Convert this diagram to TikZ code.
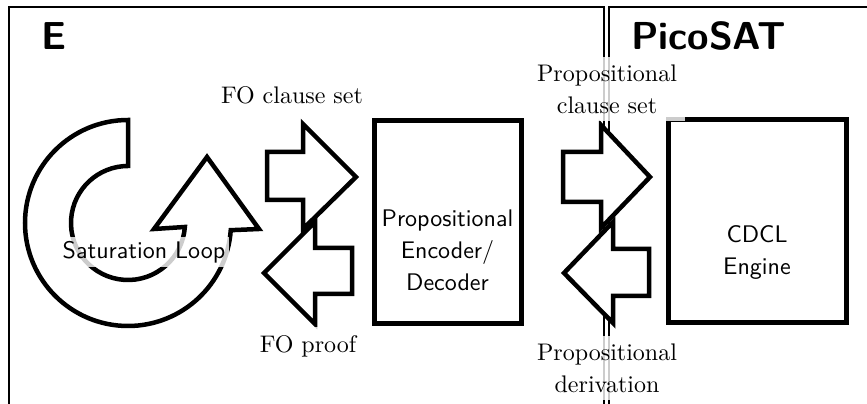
\documentclass[tikz,border=0pt]{standalone}
\usetikzlibrary{calc}
\begin{document}
\begin{tikzpicture}[x=1pt,y=1pt,
  frame/.style={line width=2pt},
  blockarrow/.style={draw, line width=4.5pt, fill=white, line join=miter},
  bigbox/.style={draw, line width=5pt, fill=white, inner sep=0pt},
  lbl/.style={font=\fontsize{10}{13.3}\selectfont, scale=2.4, transform shape, align=center, fill=white, fill opacity=0.8, text opacity=1, inner sep=3.3pt},
  slbl/.style={font=\sffamily\fontsize{10}{13.3}\selectfont, scale=2.4, transform shape, align=center, inner sep=1.6pt},
  titletext/.style={font=\sffamily\bfseries\fontsize{39}{42}\selectfont, anchor=west, inner sep=0pt}]
\useasboundingbox (0,0) rectangle (867,404);
% frames
\coordinate (lfb) at (9,-5);
\coordinate (lfe) at (604,-5);
\coordinate (rfb) at (609,-5);
\coordinate (rfe) at (875,397);
\draw[frame] (lfb) |- (lfe |- 0,397) -- (lfe);
\draw[frame] (rfb) |- (rfe);
\node[titletext] (eti) at (41,368) {E};
\node[titletext] (pti) at (631,368) {PicoSAT};
% saturation loop
\coordinate (lc) at (128,181);
\draw[blockarrow] (128,284) arc[start angle=90,end angle=356,radius=103]
  -- (259,175) -- (207,247) -- (154,175) -- ($(lc)+(-4:57)$)
  arc[start angle=-4,end angle=-270,radius=57] -- cycle;
\node[slbl, fill=white, fill opacity=0.8, text opacity=1] (sat) at (144,152) {Saturation Loop};
% boxes
\node[bigbox, minimum width=147pt, minimum height=203pt] (enc) at (447.5,181.5) {};
\node[slbl] (enctext) at ($(enc.center)+(0,-28)$) {Propositional\\Encoder/\\Decoder};
\node[bigbox, minimum width=178pt, minimum height=203pt] (cdcl) at (757,182.5) {};
\node[slbl] (cdcltext) at ($(cdcl.center)+(0,-31)$) {CDCL\\Engine};
% block arrows
\draw[blockarrow] (267,252) -- (303,252) -- (303,280) -- (356,227) -- (303,175) -- (303,204) -- (267,204) -- cycle;
\draw[blockarrow] (264,131) -- (315,182) -- (315,156) -- (352,156) -- (352,110) -- (315,110) -- (315,80) -- cycle;
\draw[blockarrow] (563,252) -- (601,252) -- (601,279) -- (650,227) -- (601,176) -- (601,202) -- (563,202) -- cycle;
\draw[blockarrow] (564,131) -- (613,182) -- (613,155) -- (649,155) -- (649,108) -- (613,108) -- (613,81) -- cycle;
% labels
\node[lbl] (foc) at (292,309) {FO clause set};
\node[lbl] (fop) at (308,58) {FO proof};
\node[lbl] (pcs) at (607,315) {Propositional\\clause set};
\node[lbl] (pder) at (607,36) {Propositional\\derivation};
\end{tikzpicture}
\end{document}
